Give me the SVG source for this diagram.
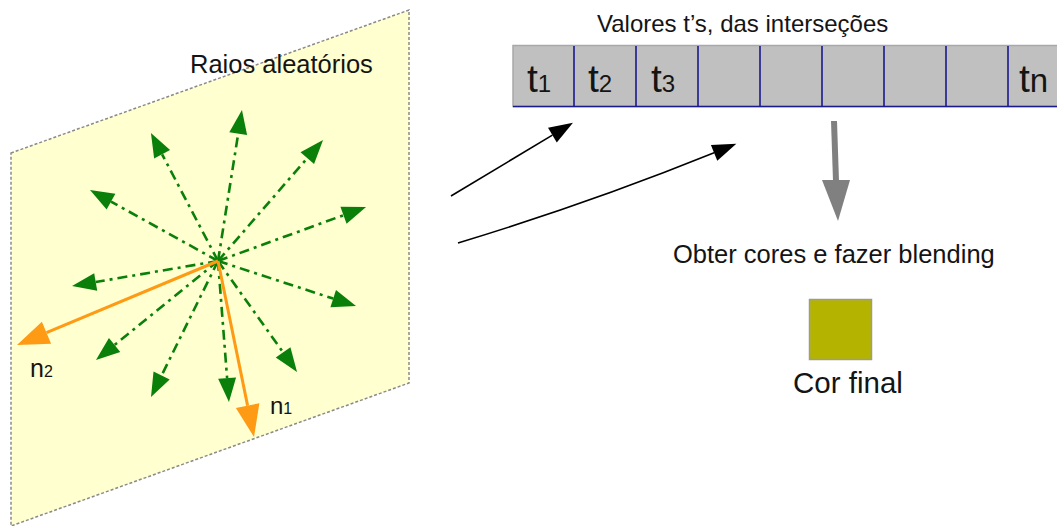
<svg xmlns="http://www.w3.org/2000/svg" width="1057" height="526" viewBox="0 0 1057 526">
  <style>
    text { font-family: "Liberation Sans", Arial, sans-serif; fill: #141414; }
    .ray { stroke: #0a7f0a; stroke-width: 2.6; stroke-dasharray: 10 5 3 5; fill: none; marker-end: url(#greenHead); }
    .normal { stroke: #ff9a14; stroke-width: 3; fill: none; marker-end: url(#orangeHead); }
    .flow { stroke: #000; stroke-width: 1.6; fill: none; marker-end: url(#blackHead); }
    .div { stroke: #1a1a8c; stroke-width: 1.6; }
  </style>
  <defs>
    <marker id="greenHead" markerUnits="userSpaceOnUse" markerWidth="26" markerHeight="20" refX="0" refY="9" orient="auto" overflow="visible">
      <path d="M0,0 L24,9 L0,18 z" fill="#0a7f0a"/>
    </marker>
    <marker id="orangeHead" markerUnits="userSpaceOnUse" markerWidth="34" markerHeight="26" refX="0" refY="12" orient="auto" overflow="visible">
      <path d="M0,0 L32,12 L0,24 z" fill="#ff9a14"/>
    </marker>
    <marker id="blackHead" markerUnits="userSpaceOnUse" markerWidth="26" markerHeight="18" refX="0" refY="8.5" orient="auto" overflow="visible">
      <path d="M0,0 L24,8.5 L0,17 z" fill="#000"/>
    </marker>
  </defs>

  <g id="plane">
    <polygon points="11,153 409,10 409,383 11,526" fill="#ffffd0" stroke="#8a8a8a" stroke-width="1.5" stroke-dasharray="3 2"/>
    <text x="190" y="73" font-size="25.5">Raios aleatórios</text>
  </g>

  <g id="rays">
    <line class="ray" x1="218" y1="261" x2="162.1" y2="154.3"/>
    <line class="ray" x1="218" y1="261" x2="238.2" y2="133.7"/>
    <line class="ray" x1="218" y1="261" x2="307.3" y2="158.1"/>
    <line class="ray" x1="218" y1="261" x2="343.5" y2="215.2"/>
    <line class="ray" x1="218" y1="261" x2="333.2" y2="298.6"/>
    <line class="ray" x1="218" y1="261" x2="283.1" y2="352.4"/>
    <line class="ray" x1="218" y1="261" x2="227.1" y2="378.1"/>
    <line class="ray" x1="218" y1="261" x2="161.6" y2="375.5"/>
    <line class="ray" x1="218" y1="261" x2="114.6" y2="344.9"/>
    <line class="ray" x1="218" y1="261" x2="95.7" y2="282"/>
    <line class="ray" x1="218" y1="261" x2="111" y2="201.6"/>
  </g>

  <g id="normals">
    <line class="normal" x1="218" y1="261" x2="46.5" y2="332.7"/>
    <line class="normal" x1="218" y1="261" x2="247.6" y2="405.6"/>
    <text x="30" y="377" font-size="25">n<tspan font-size="16">2</tspan></text>
    <text x="270" y="414" font-size="24">n<tspan font-size="16">1</tspan></text>
  </g>

  <g id="connectors">
    <line class="flow" x1="451" y1="196" x2="552.4" y2="135.1"/>
    <path class="flow" d="M458,243 Q590,203 714.1,152.8"/>
    <line x1="834" y1="121" x2="836" y2="181" stroke="#808080" stroke-width="6"/>
    <polygon points="822,180 850,180 838,221" fill="#808080"/>
  </g>

  <g id="t-array">
    <text x="597" y="32" font-size="24">Valores t’s, das interseções</text>
    <rect x="513" y="45.5" width="560" height="61" fill="#c0c0c0" stroke="#a8a8a8" stroke-width="1.5"/>
    <line class="div" x1="513" y1="106.5" x2="1057" y2="106.5"/>
    <line class="div" x1="574" y1="46" x2="574" y2="106"/>
    <line class="div" x1="636" y1="46" x2="636" y2="106"/>
    <line class="div" x1="698" y1="46" x2="698" y2="106"/>
    <line class="div" x1="760" y1="46" x2="760" y2="106"/>
    <line class="div" x1="822" y1="46" x2="822" y2="106"/>
    <line class="div" x1="884" y1="46" x2="884" y2="106"/>
    <line class="div" x1="946" y1="46" x2="946" y2="106"/>
    <line class="div" x1="1008" y1="46" x2="1008" y2="106"/>
    <text x="527" y="92" font-size="39">t<tspan font-size="24">1</tspan></text>
    <text x="588" y="92" font-size="39">t<tspan font-size="24">2</tspan></text>
    <text x="651" y="92" font-size="39">t<tspan font-size="24">3</tspan></text>
    <text x="1019" y="92" font-size="39">t<tspan font-size="33">n</tspan></text>
  </g>

  <g id="blend">
    <text x="673" y="263" font-size="25.5">Obter cores e fazer blending</text>
  </g>

  <g id="final-color">
    <rect x="809.5" y="299.5" width="62" height="60" fill="#b4b400" stroke="#9a9a9a" stroke-width="1.5"/>
    <text x="848" y="393" font-size="29.5" text-anchor="middle">Cor final</text>
  </g>
</svg>
